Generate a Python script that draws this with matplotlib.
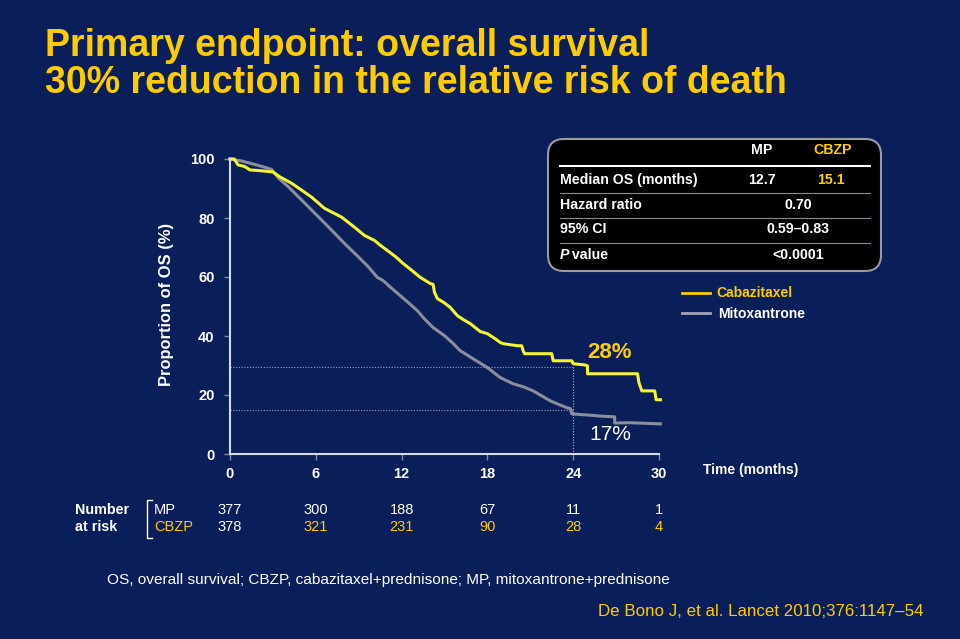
import matplotlib
matplotlib.use("Agg")
import matplotlib.pyplot as plt
from matplotlib.patches import FancyBboxPatch
from matplotlib.transforms import blended_transform_factory
import numpy as np

plt.rcParams['font.family'] = ['Liberation Sans', 'DejaVu Sans']

# ---- data (curve vertices: month, % alive) ----
cbzp_t = [0, 0.3, 0.56, 1.0, 1.4, 2.2, 3.0, 3.5, 4.3, 5.2, 5.7, 6.6, 7.2, 7.8, 8.7, 9.4, 10.1,
          10.5, 11.0, 11.6, 12.1, 12.7, 13.3, 14.0, 14.2, 14.3, 14.5, 15.0, 15.4, 15.9, 16.3,
          16.8, 17.5, 18.0, 18.5, 18.9, 19.1, 20.1, 20.4, 20.5, 20.6, 22.5, 22.6, 23.9, 24.0,
          24.8, 25.0, 25.0, 28.5, 28.6, 28.8, 29.7, 29.8, 30.1]
cbzp_s = [100, 100, 98.0, 97.5, 96.3, 96.0, 95.6, 93.9, 91.8, 88.8, 87.1, 83.3, 81.8, 80.3, 76.9, 74.1, 72.4,
          70.8, 69.0, 66.8, 64.6, 62.3, 59.9, 57.8, 57.5, 54.8, 52.7, 51.2, 49.7, 46.9, 45.6,
          44.2, 41.5, 40.8, 39.2, 37.8, 37.4, 36.7, 36.7, 35.0, 34.0, 34.0, 31.6, 31.6, 30.6,
          30.2, 29.9, 27.2, 27.2, 24.1, 21.4, 21.4, 18.4, 18.4]

mp_t = [0, 0.84, 2.0, 2.9, 3.4, 4.1, 4.8, 5.5, 6.2, 7.1, 8.0, 9.0, 9.7, 10.3, 10.7, 11.3, 11.9,
        12.5, 13.1, 13.6, 14.2, 15.0, 15.6, 16.1, 17.0, 18.0, 18.9, 19.8, 20.5, 21.2, 22.4, 23.0,
        23.6, 23.8, 23.9, 25.6, 25.7, 26.9, 26.9, 28.0, 30.1]
mp_s = [100, 99.3, 97.8, 96.5, 93.5, 90.5, 87.1, 83.7, 80.3, 75.9, 71.4, 66.7, 63.3, 59.9, 58.8, 56.2, 53.7,
        51.2, 48.6, 45.8, 42.9, 40.1, 37.5, 35.0, 32.3, 29.3, 25.9, 23.8, 22.8, 21.4, 18.0, 16.8,
        15.6, 15.4, 13.6, 13.0, 12.9, 12.6, 10.5, 10.6, 10.2]

ref_month = 24
ref_cbzp = 29.6
ref_mp = 15.0
ref_labels = ["28%", "17%"]

x_ticks = [0, 6, 12, 18, 24, 30]
y_ticks = [0, 20, 40, 60, 80, 100]
risk_mp = [377, 300, 188, 67, 11, 1]
risk_cbzp = [378, 321, 231, 90, 28, 4]

table_rows = ["Median OS (months)", "Hazard ratio", "95% CI", "P value"]
table_mp = ["12.7", "0.70", "0.59\u20130.83", "<0.0001"]
table_cbzp = ["15.1"]

bg = '#0a1e5a'
gold = '#ffcc00'
curve_yellow = '#f4f430'
curve_grey = '#8a8d9c'
axis_col = '#d4dbe8'

fig = plt.figure(figsize=(9.6, 6.39), dpi=100, facecolor=bg)

# overlay in pixel coordinates for slide text
ov = fig.add_axes([0, 0, 1, 1])
ov.set_xlim(0, 960)
ov.set_ylim(639, 0)
ov.axis('off')

ov.text(45, 46, "Primary endpoint: overall survival", color=gold, fontsize=27,
        fontweight='bold', va='center', ha='left')
ov.text(45, 83, "30% reduction in the relative risk of death", color=gold, fontsize=27,
        fontweight='bold', va='center', ha='left')

# table box
box = FancyBboxPatch((548, 139), 333, 132, boxstyle="round,pad=0,rounding_size=16",
                     facecolor='black', edgecolor='#9a9aa6', linewidth=1.5)
ov.add_patch(box)
fs_t = 10.2
ov.text(762, 150, "MP", color='white', fontsize=fs_t, fontweight='bold', ha='center', va='center')
ov.text(833, 150, "CBZP", color=gold, fontsize=fs_t, fontweight='bold', ha='center', va='center')
ov.plot([560, 870], [166, 166], color='white', lw=1.5)
for yy in [193, 218, 243]:
    ov.plot([560, 870], [yy, yy], color='#8a8a90', lw=0.8)
row_y = [180, 205, 229, 255]
for lab, yy in zip(table_rows, row_y):
    if lab.startswith("P "):
        ov.text(560, yy, "P", color='white', fontsize=fs_t, fontweight='bold', fontstyle='italic',
                ha='left', va='center')
        ov.text(568, yy, " value", color='white', fontsize=fs_t, fontweight='bold', ha='left', va='center')
    else:
        ov.text(560, yy, lab, color='white', fontsize=fs_t, fontweight='bold', ha='left', va='center')
ov.text(762, row_y[0], table_mp[0], color='white', fontsize=fs_t, fontweight='bold', ha='center', va='center')
ov.text(831, row_y[0], table_cbzp[0], color=gold, fontsize=fs_t, fontweight='bold', ha='center', va='center')
for j in range(1, 4):
    ov.text(798, row_y[j], table_mp[j], color='white', fontsize=fs_t, fontweight='bold',
            ha='center', va='center')

# legend
ov.plot([682, 710], [293, 293], color=gold, lw=2)
ov.text(716, 293, "Cabazitaxel", color=gold, fontsize=10, fontweight='bold', va='center')
ov.plot([682, 710], [313, 313], color='#a0a4b4', lw=2)
ov.text(718, 314, "Mitoxantrone", color='white', fontsize=10, fontweight='bold', va='center')

ov.text(167, 304, "Proportion of OS (%)", color='white', fontsize=11.9, fontweight='bold',
        rotation=90, ha='center', va='center')
ov.text(703, 470, "Time (months)", color='white', fontsize=10, fontweight='bold', va='center')

# number at risk
ov.text(75, 510, "Number", color='white', fontsize=10.3, fontweight='bold', va='center')
ov.text(75, 527, "at risk", color='white', fontsize=10.3, fontweight='bold', va='center')
ov.plot([152, 147, 147, 152], [500, 500, 538, 538], color='white', lw=1)
ov.text(154, 510, "MP", color='white', fontsize=10.5, va='center')
ov.text(154, 527, "CBZP", color=gold, fontsize=10.5, va='center')

ov.text(107, 580, "OS, overall survival; CBZP, cabazitaxel+prednisone; MP, mitoxantrone+prednisone",
        color='white', fontsize=11.1, va='center')
ov.text(923, 612, "De Bono J, et al. Lancet 2010;376:1147\u201354", color=gold, fontsize=12.2,
        ha='right', va='center')

# KM plot
ax = fig.add_axes([230 / 960, (639 - 454) / 639, 429 / 960, 295 / 639])
ax.set_facecolor('none')
ax.set_xlim(0, 30)
ax.set_ylim(0, 100)
ax.plot(mp_t, mp_s, color=curve_grey, lw=2.2, clip_on=False)
ax.plot(cbzp_t, cbzp_s, color=curve_yellow, lw=2.2, clip_on=False)

ax.plot([0, ref_month], [ref_cbzp, ref_cbzp], color='#9aa0b8', lw=0.8, ls=(0, (1, 1.5)))
ax.plot([0, ref_month], [ref_mp, ref_mp], color='#9aa0b8', lw=0.8, ls=(0, (1, 1.5)))
ax.plot([ref_month, ref_month], [0, ref_cbzp], color='#e0b860', lw=0.8, ls=(0, (1, 1.5)))
ax.text(25.0, 34.5, ref_labels[0], color=gold, fontsize=16, fontweight='bold', va='center')
ax.text(25.1, 6.5, ref_labels[1], color='white', fontsize=15, va='center')

for s in ['top', 'right']:
    ax.spines[s].set_visible(False)
for s in ['left', 'bottom']:
    ax.spines[s].set_color(axis_col)
    ax.spines[s].set_linewidth(1.5)
ax.set_xticks(x_ticks)
ax.set_yticks(y_ticks)
ax.tick_params(axis='both', colors='#7f8aa8', labelcolor='white', length=4, width=1,
               labelsize=10.5)
ax.tick_params(axis='x', pad=5)
ax.tick_params(axis='y', pad=7)
for lab in ax.get_xticklabels() + ax.get_yticklabels():
    lab.set_fontweight('bold')

tr = blended_transform_factory(ax.transData, ax.transAxes)
for xv, a, b in zip(x_ticks, risk_mp, risk_cbzp):
    ax.text(xv, -0.19, str(a), color='white', fontsize=10.5, ha='center', va='center',
            transform=tr, clip_on=False)
    ax.text(xv, -0.247, str(b), color='white' if xv == 0 else gold, fontsize=10.5,
            ha='center', va='center', transform=tr, clip_on=False)

fig.savefig("out.png", dpi=100, facecolor=bg)
